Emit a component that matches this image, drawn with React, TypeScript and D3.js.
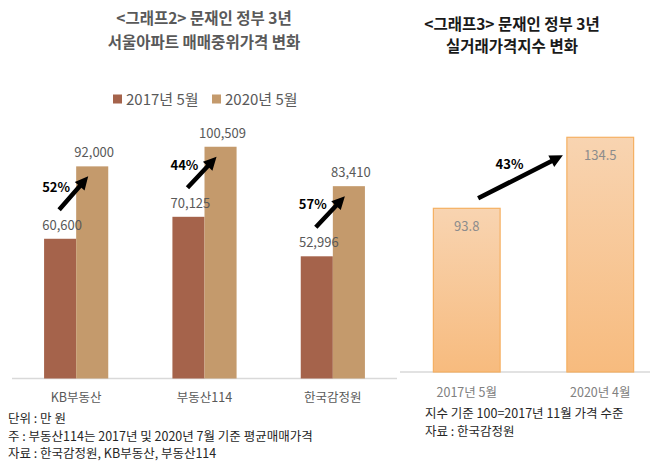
import React from "react";
import * as d3 from "d3";

const categories = ["KB부동산", "부동산114", "한국감정원"];
const seriesNames = ["2017년 5월", "2020년 5월"];
const values2017 = [60600, 70125, 52996];
const values2020 = [92000, 100509, 83410];
const changeLabels = ["52%", "44%", "57%"];

const idxCategories = ["2017년 5월", "2020년 4월"];
const idxValues = [93.8, 134.5];
const idxChange = "43%";

const leftTitle = ["<그래프2> 문재인 정부 3년", "서울아파트 매매중위가격 변화"];
const rightTitle = ["<그래프3> 문재인 정부 3년", "실거래가격지수 변화"];
const leftNotes = [
  "단위 : 만 원",
  "주 : 부동산114는 2017년 및 2020년 7월 기준 평균매매가격",
  "자료 : 한국감정원, KB부동산, 부동산114",
];
const rightNotes = ["지수 기준 100=2017년 11월 가격 수준", "자료 : 한국감정원"];

const FONT = "'Noto Sans CJK KR', 'Noto Sans', sans-serif";
const DARK = "#a5634b";
const LIGHT = "#c49a6c";

function arrowPath(x1: number, y1: number, x2: number, y2: number, w = 4.5, hl = 13, hw = 13) {
  const dx = x2 - x1;
  const dy = y2 - y1;
  const len = Math.sqrt(dx * dx + dy * dy);
  const ux = dx / len;
  const uy = dy / len;
  const px = -uy;
  const py = ux;
  const bx = x2 - ux * hl;
  const by = y2 - uy * hl;
  const pts = [
    [x1 + px * w / 2, y1 + py * w / 2],
    [bx + px * w / 2, by + py * w / 2],
    [bx + px * hw / 2, by + py * hw / 2],
    [x2, y2],
    [bx - px * hw / 2, by - py * hw / 2],
    [bx - px * w / 2, by - py * w / 2],
    [x1 - px * w / 2, y1 - py * w / 2],
  ];
  return "M" + pts.map((p) => p.join(",")).join("L") + "Z";
}

export default function App() {
  // Left chart scales
  const x0 = d3.scaleBand<string>().domain(categories).range([12, 397]).paddingInner(0.5).paddingOuter(0.25);
  const x1 = d3.scaleBand<string>().domain(seriesNames).range([0, x0.bandwidth()]);
  const y = d3.scaleLinear().domain([0, 120000]).range([378.5, 101.8]);
  const fmt = d3.format(",");

  // Right chart scales
  const xr = d3.scaleBand<string>().domain(idxCategories).range([400, 667]).paddingInner(0.5).paddingOuter(0.25);
  const yr = d3.scaleLinear().domain([0, 160]).range([372, 92.8]);

  const groups = categories.map((c, i) => {
    const gx = x0(c)!;
    const vals = [values2017[i], values2020[i]];
    const dCx = gx + x1(seriesNames[0])! + x1.bandwidth() / 2;
    const lCx = gx + x1(seriesNames[1])! + x1.bandwidth() / 2;
    return { c, i, gx, vals, dCx, lCx };
  });

  return (
    <div style={{ position: "absolute", left: 0, top: 0 }}>
      <svg width={650} height={475} style={{ display: "block", background: "#fff" }} fontFamily={FONT}>
        <defs>
          <linearGradient id="barGrad" x1="0" y1="0" x2="0" y2="1">
            <stop offset="0%" stopColor="#f8d4b1" />
            <stop offset="100%" stopColor="#f7bb7e" />
          </linearGradient>
        </defs>

        {/* Left titles */}
        {leftTitle.map((t, i) => (
          <text key={i} x={204} y={24 + i * 24} textAnchor="middle" fontSize={15.5} fontWeight="bold" fill="#595959">
            {t}
          </text>
        ))}

        {/* Legend */}
        {seriesNames.map((s, i) => {
          const lx = i === 0 ? 113 : 212;
          return (
            <g key={s}>
              <rect x={lx} y={94.5} width={9} height={9} fill={i === 0 ? DARK : LIGHT} />
              <text x={lx + 13} y={104.5} fontSize={15} fill="#595959">
                {s}
              </text>
            </g>
          );
        })}

        {/* Left axis line */}
        <line x1={12} x2={397} y1={378.5} y2={378.5} stroke="#d9d9d9" strokeWidth={1.5} />

        {/* Bars */}
        {groups.map((g) =>
          g.vals.map((v, j) => (
            <rect
              key={g.c + j}
              x={g.gx + x1(seriesNames[j])!}
              y={y(v)}
              width={x1.bandwidth()}
              height={y(0) - y(v)}
              fill={j === 0 ? DARK : LIGHT}
            />
          ))
        )}

        {/* Labels and arrows */}
        {groups.map((g) => (
          <g key={g.c}>
            {g.vals.map((v, j) => (
              <text
                key={j}
                x={g.gx + x1(seriesNames[j])! + x1.bandwidth() / 2 + 2}
                y={y(v) - 9}
                textAnchor="middle"
                fontSize={13}
                fill="#595959"
              >
                {fmt(v)}
              </text>
            ))}
            <path d={arrowPath(g.dCx - 1, y(g.vals[0]) - 29, g.lCx - 4, y(g.vals[1]) + 10)} fill="#000" />
            <text x={g.dCx - 4} y={y(g.vals[0]) - 47} textAnchor="middle" fontSize={13} fontWeight="bold" fill="#000">
              {changeLabels[g.i]}
            </text>
            <text x={g.gx + x0.bandwidth() / 2} y={402} textAnchor="middle" fontSize={12.5} fill="#595959">
              {g.c}
            </text>
          </g>
        ))}

        {/* Left notes */}
        {leftNotes.map((t, i) => (
          <text key={i} x={8} y={423 + i * 17.5} fontSize={12.5} fill="#262626">
            {t}
          </text>
        ))}

        {/* Right titles */}
        {rightTitle.map((t, i) => (
          <text key={i} x={512} y={29.5 + i * 22} textAnchor="middle" fontSize={15.5} fontWeight="bold" fill="#1a1a1a">
            {t}
          </text>
        ))}

        {/* Right axis line */}
        <line x1={400} x2={650} y1={372} y2={372} stroke="#d9d9d9" strokeWidth={1.5} />

        {idxCategories.map((c, i) => {
          const bx = xr(c)!;
          const v = idxValues[i];
          return (
            <g key={c}>
              <rect
                x={bx}
                y={yr(v)}
                width={xr.bandwidth()}
                height={yr(0) - yr(v)}
                fill="url(#barGrad)"
                stroke="#f5b062"
                strokeWidth={1.2}
              />
              <text x={bx + xr.bandwidth() / 2} y={yr(v) + 23} textAnchor="middle" fontSize={13} fill="#8c8c8c">
                {v.toFixed(1)}
              </text>
              <text x={bx + xr.bandwidth() / 2} y={397} textAnchor="middle" fontSize={12.5} fill="#808080">
                {c}
              </text>
            </g>
          );
        })}

        {(() => {
          const b0 = xr(idxCategories[0])!;
          const b1 = xr(idxCategories[1])!;
          const sx = b0 + xr.bandwidth() - 22;
          const sy = yr(idxValues[0]) - 10;
          const ex = b1 - 4;
          const ey = yr(idxValues[1]) + 18;
          return (
            <g>
              <path d={arrowPath(sx, sy, ex, ey)} fill="#000" />
              <text x={(sx + ex) / 2 - 11} y={(sy + ey) / 2 - 8} textAnchor="middle" fontSize={13} fontWeight="bold" fill="#000">
                {idxChange}
              </text>
            </g>
          );
        })()}

        {/* Right notes */}
        {rightNotes.map((t, i) => (
          <text key={i} x={425} y={418 + i * 18} fontSize={12.5} fill="#262626">
            {t}
          </text>
        ))}
      </svg>
    </div>
  );
}
